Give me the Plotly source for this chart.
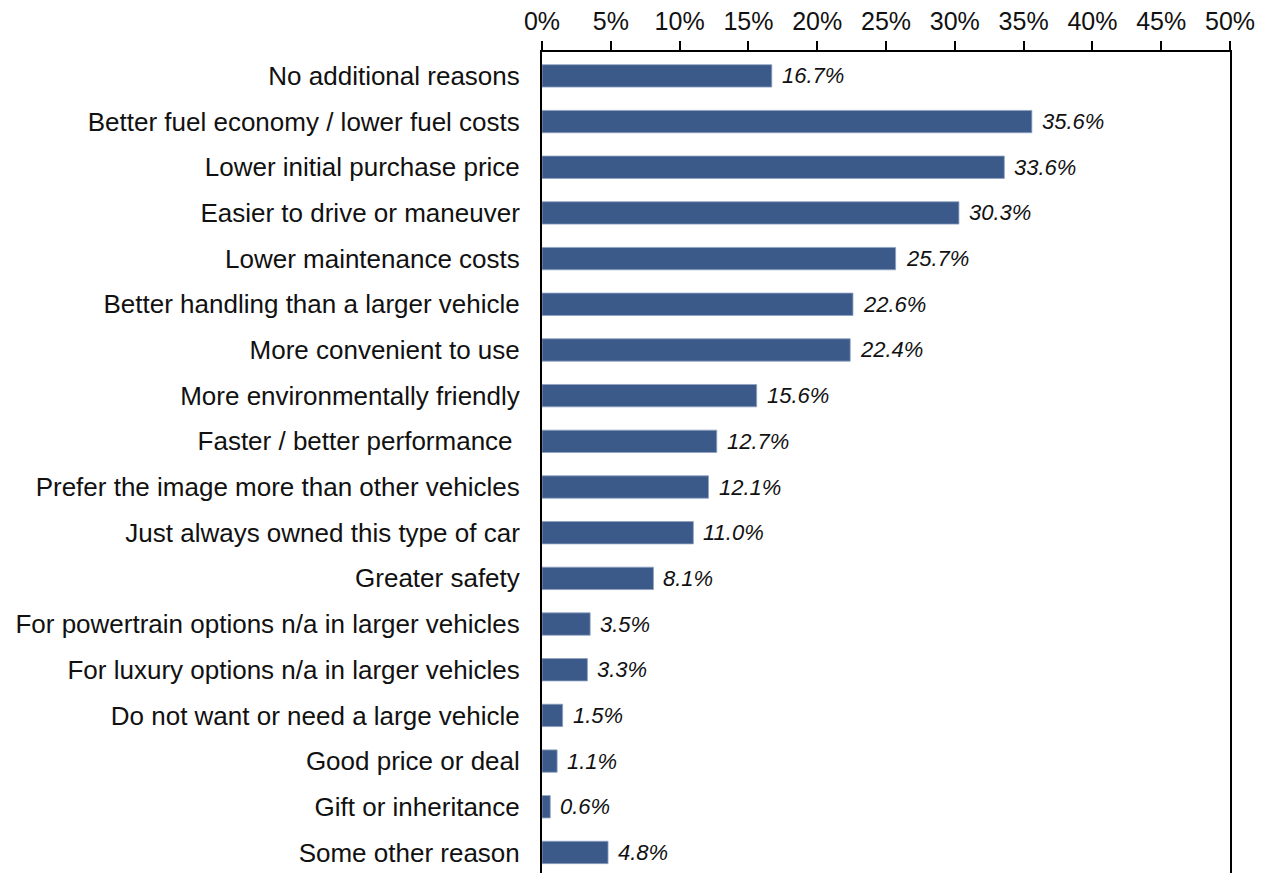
import plotly.graph_objects as go

# Reasons for choosing a smaller vehicle (share of respondents, %)
reasons = [
    "No additional reasons",
    "Better fuel economy / lower fuel costs",
    "Lower initial purchase price",
    "Easier to drive or maneuver",
    "Lower maintenance costs",
    "Better handling than a larger vehicle",
    "More convenient to use",
    "More environmentally friendly",
    "Faster / better performance\u00a0",
    "Prefer the image more than other vehicles",
    "Just always owned this type of car",
    "Greater safety",
    "For powertrain options n/a in larger vehicles",
    "For luxury options n/a in larger vehicles",
    "Do not want or need a large vehicle",
    "Good price or deal",
    "Gift or inheritance",
    "Some other reason",
]
shares = [16.7, 35.6, 33.6, 30.3, 25.7, 22.6, 22.4, 15.6, 12.7, 12.1,
          11.0, 8.1, 3.5, 3.3, 1.5, 1.1, 0.6, 4.8]
tick_values = [0, 5, 10, 15, 20, 25, 30, 35, 40, 45, 50]
tick_labels = [f"{v}%" for v in tick_values]

FONT = "Liberation Sans, Arial, sans-serif"
BAR_COLOR = "#3B5A8A"
TEXT_COLOR = "#111111"

fig = go.Figure()
fig.add_trace(go.Bar(
    x=shares,
    y=reasons,
    orientation="h",
    width=0.49,
    marker=dict(color=BAR_COLOR, line=dict(color="#8FA2C0", width=0.8)),
    hoverinfo="skip",
))

# Value labels to the right of each bar
for r, v in zip(reasons, shares):
    fig.add_annotation(
        x=v, y=r, xref="x", yref="y",
        text=f"{v:.1f}%",
        showarrow=False, xanchor="left", yanchor="middle",
        xshift=8,
        font=dict(family=FONT, size=22, color=TEXT_COLOR, style="italic"),
    )

fig.update_layout(
    width=1267, height=873,
    margin=dict(l=542, r=37, t=52, b=0, pad=0),
    paper_bgcolor="white", plot_bgcolor="white",
    showlegend=False,
    bargap=0.51,
    font=dict(family=FONT, color=TEXT_COLOR),
)

fig.update_xaxes(
    side="top",
    range=[0, 50],
    tickmode="array",
    tickvals=tick_values,
    ticktext=tick_labels,
    tickfont=dict(family=FONT, size=25, color=TEXT_COLOR),
    ticks="outside", ticklen=9, tickwidth=2, tickcolor="black",
    showline=True, linecolor="black", linewidth=2,
    showgrid=False, zeroline=False,
    ticklabelstandoff=1,
)

fig.update_yaxes(
    type="category",
    categoryorder="array",
    categoryarray=reasons,
    range=[17.45, -0.523],
    autorange=False,
    tickfont=dict(family=FONT, size=26, color=TEXT_COLOR),
    ticks="", showline=True, mirror=True,
    linecolor="black", linewidth=2,
    showgrid=False, zeroline=False,
    ticklabelstandoff=15,
)

fig.write_html("out.html")
